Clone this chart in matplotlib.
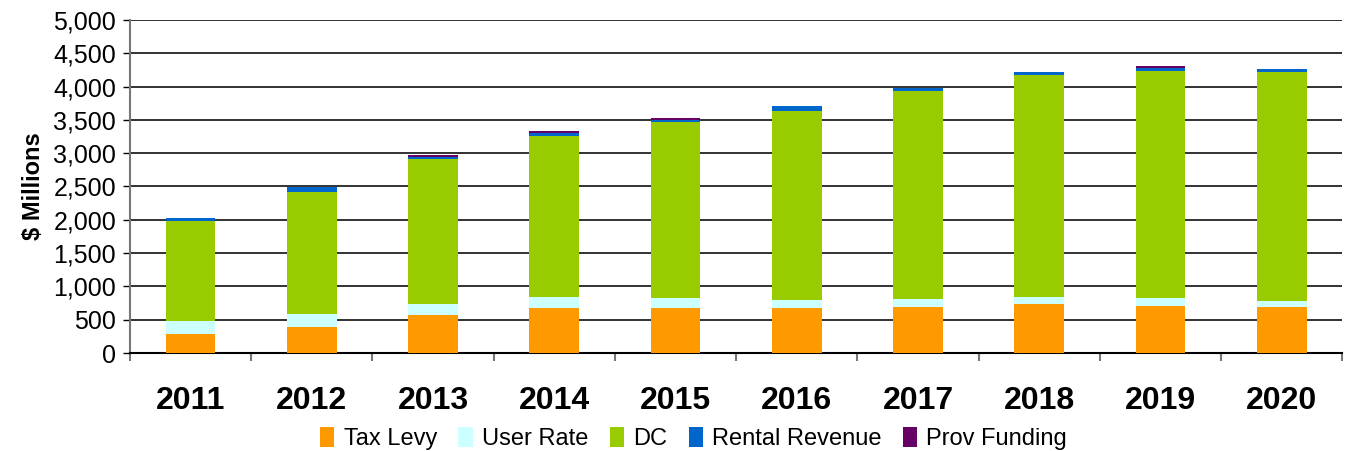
import numpy as np
import matplotlib.pyplot as plt
from matplotlib.ticker import FuncFormatter, MultipleLocator

plt.rcParams['font.family'] = ['Liberation Sans', 'DejaVu Sans']

# --- data ($ millions) ---
years = ['2011', '2012', '2013', '2014', '2015', '2016', '2017', '2018', '2019', '2020']
tax_levy = [290, 390, 575, 680, 680, 680, 695, 740, 710, 695]
user_rate = [190, 195, 165, 166, 150, 120, 120, 105, 120, 90]
dc = [1505, 1835, 2175, 2416, 2635, 2830, 3120, 3330, 3405, 3435]
rental = [40, 75, 30, 40, 30, 75, 50, 45, 45, 45]
prov = [0, 0, 30, 30, 25, 0, 0, 0, 30, 0]

series = [('Tax Levy', tax_levy, '#FF9900'),
          ('User Rate', user_rate, '#CCFFFF'),
          ('DC', dc, '#99CC00'),
          ('Rental Revenue', rental, '#0066CC'),
          ('Prov Funding', prov, '#660066')]

fig = plt.figure(figsize=(13.47, 4.51), dpi=100)
ax = fig.add_axes([0.0965, 0.217, 0.9, 0.739])

x = np.arange(len(years))
bottom = np.zeros(len(years))
for name, vals, col in series:
    ax.bar(x, vals, 0.41, bottom=bottom, color=col, label=name, zorder=3)
    bottom += np.array(vals)

ax.set_xlim(-0.5, len(years) - 0.5)
ax.set_ylim(0, 5000)
ax.yaxis.set_major_locator(MultipleLocator(500))
ax.yaxis.set_major_formatter(FuncFormatter(lambda v, p: f'{int(v):,}'))
ax.grid(axis='y', color='#222222', linewidth=1.3, zorder=0)

ax.set_xticks(x)
ax.set_xticklabels(years, fontsize=23, fontweight='bold')
ax.set_xticks(np.arange(len(years) + 1) - 0.5, minor=True)
ax.tick_params(axis='x', which='major', length=0, pad=24)
ax.tick_params(axis='x', which='minor', length=6, width=1.5, color='#777777')
ax.tick_params(axis='y', length=5, width=1.0, labelsize=18, pad=5)

for s in ['top', 'right']:
    ax.spines[s].set_visible(False)
ax.spines['left'].set_color('#777777')
ax.spines['left'].set_linewidth(1.5)
ax.spines['bottom'].set_linewidth(1.5)

ax.set_ylabel('$ Millions', fontsize=17, fontweight='bold', labelpad=6)

fig.legend(loc='lower center', bbox_to_anchor=(0.515, -0.045), ncol=5, frameon=False,
           fontsize=17, handlelength=0.6, handleheight=0.9, handletextpad=0.4,
           columnspacing=0.9)

fig.savefig('out.png', dpi=100)
